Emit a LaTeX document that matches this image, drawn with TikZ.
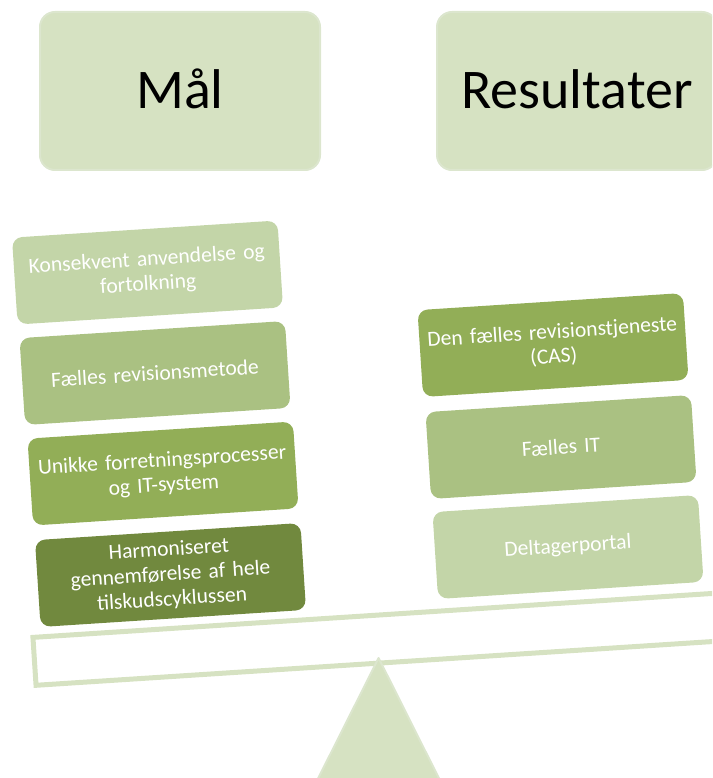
\documentclass[tikz,border=0pt]{standalone}
\usepackage{fontspec}
\setmainfont{Carlito}
\definecolor{topfill}{HTML}{D6E2C2}
\definecolor{topline}{HTML}{DCE6CE}
\definecolor{cone}{HTML}{C3D5A8}
\definecolor{ctwo}{HTML}{AAC182}
\definecolor{cthree}{HTML}{92AE57}
\definecolor{cfour}{HTML}{71893E}
\definecolor{beamcol}{HTML}{D6E2C2}
\tikzset{
  topbox/.style={fill=topfill, draw=topline, line width=2pt, rounded corners=15pt,
    minimum width=280pt, minimum height=158pt, inner sep=0pt,
    font=\fontsize{56}{60}\selectfont, text=black},
  itembox/.style={rounded corners=10pt, minimum width=266pt, minimum height=87pt,
    inner sep=0pt, text width=262pt, align=center, text=white, rotate=3.7,
    font=\fontsize{21.6}{24.8}\selectfont},
}
\begin{document}
\begin{tikzpicture}[x=1pt,y=-1pt]
\useasboundingbox (0,0) rectangle (712,778);
\clip (0,0) rectangle (712,778);
% top boxes
\node[topbox] (maal) at (180,91) {\raisebox{4pt}{Mål}};
\node[topbox] (res) at (577,91) {\raisebox{4pt}{Resultater}};
% beam
\draw[beamcol, line width=5pt, rotate around={3.7:(32,661.5)}]
  (34.5,637.5) rectangle (1000,685.5);
% fulcrum
\draw[fill=topfill, draw=topline, line width=2pt, line join=round]
  (378.6,658) -- (500,900) -- (257,900) -- cycle;
% left stack
\node[itembox, fill=cone] (l1) at (147.5,272.5) {Konsekvent anvendelse og\\fortolkning};
\node[itembox, fill=ctwo] (l2) at (155,373) {Fælles revisionsmetode};
\node[itembox, fill=cthree] (l3) at (163,473.5) {Unikke forretningsprocesser\\og IT-system};
\node[itembox, fill=cfour] (l4) at (170.5,575) {Harmoniseret\\gennemførelse af hele\\tilskudscyklussen};
% right stack
\node[itembox, fill=cthree] (r1) at (553,345) {Den fælles revisionstjeneste\\(CAS)};
\node[itembox, fill=ctwo] (r2) at (561,447) {Fælles IT};
\node[itembox, fill=cone] (r3) at (568,547) {Deltagerportal};
\end{tikzpicture}
\end{document}
